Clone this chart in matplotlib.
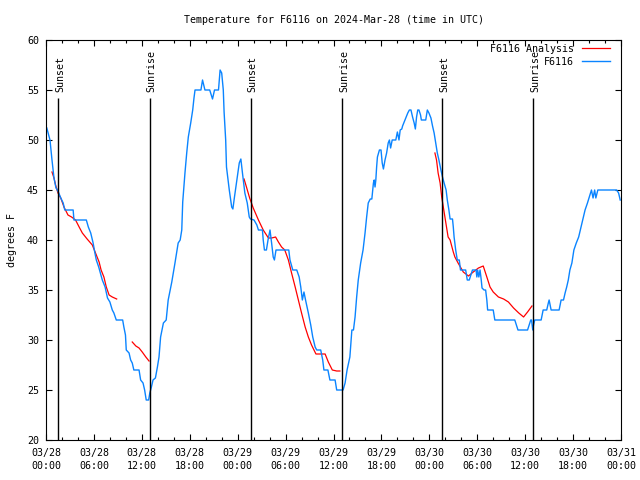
"""
Temperature trace for station F6116 with analysis overlay and sun events.
"""

import matplotlib
matplotlib.use("Agg")
import matplotlib.pyplot as plt
from matplotlib.ticker import MultipleLocator

FONT = "DejaVu Sans Mono"
FS = 7.2

# ─── data (x = hours since 03/28 00:00 UTC) ─────────────────────────────────

obs_hours = [
    0.1, 0.5, 0.75, 1.0, 1.25, 1.35, 1.6, 1.85, 2.15, 2.35, 3.4, 3.5, 5.05, 5.3,
    5.6, 5.9, 6.1, 6.3, 6.6, 7.05, 7.4, 7.7, 8.0, 8.3, 8.5, 8.8, 9.6, 9.75, 9.95,
    10.05, 10.4, 10.6, 10.8, 11.0, 11.65, 11.85, 12.15, 12.35, 12.55, 12.85,
    13.0, 13.2, 13.4, 13.7, 13.95, 14.15, 14.35, 14.7, 15.05, 15.3, 15.75, 16.15,
    16.55, 16.8, 17.0, 17.12, 17.4, 17.62, 17.82, 18.12, 18.37, 18.53, 18.66,
    19.4, 19.6, 19.9, 20.5, 20.85, 21.1, 21.6, 21.8, 22.0, 22.2, 22.3, 22.5,
    22.6, 22.95, 23.25, 23.4, 23.6, 23.9, 24.2, 24.4, 24.6, 24.9, 25.2, 25.45,
    25.6, 26.05, 26.4, 26.6, 27.1, 27.2, 27.35, 27.6, 27.8, 28.05, 28.25, 28.45,
    28.6, 28.8, 30.4, 30.55, 30.9, 31.4, 31.7, 31.9, 32.1, 32.3, 32.5, 32.85,
    33.15, 33.4, 33.7, 33.9, 34.4, 34.65, 34.8, 35.3, 35.55, 36.2, 36.4, 37.2,
    37.45, 37.7, 38.05, 38.3, 38.5, 38.7, 38.9, 39.1, 39.4, 39.7, 39.95, 40.15,
    40.35, 40.6, 40.8, 41.0, 41.1, 41.2, 41.3, 41.4, 41.5, 41.75, 41.95, 42.1,
    42.25, 42.45, 42.65, 42.85, 43.0, 43.15, 43.35, 43.6, 43.8, 44.0, 44.2,
    44.35, 44.55, 44.65, 44.8, 45.05, 45.3, 45.5, 45.7, 45.9, 46.1, 46.25, 46.4,
    46.55, 46.7, 46.9, 47.0, 47.55, 47.75, 47.95, 48.2, 48.4, 48.6, 48.8, 49.0,
    49.2, 49.45, 49.65, 49.85, 50.1, 50.25, 50.45, 50.6, 50.9, 51.0, 51.1, 51.3,
    51.5, 51.75, 51.9, 52.55, 52.75, 53.0, 53.2, 53.4, 53.85, 53.95, 54.05,
    54.2, 54.35, 54.5, 54.6, 54.85, 55.05, 55.2, 55.3, 56.0, 56.2, 58.7, 58.9,
    59.1, 60.3, 60.5, 60.7, 60.8, 60.95, 61.05, 61.2, 62.0, 62.25, 62.7, 62.9,
    63.0, 63.25, 64.25, 64.5, 64.8, 65.0, 65.2, 65.4, 65.6, 65.85, 66.1, 66.4,
    66.7, 67.0, 67.2, 67.5, 67.8, 68.1, 68.3, 68.5, 68.7, 68.85, 69.1, 71.45,
    71.7, 71.9,
]
obs_temps = [
    51.2, 50.0, 48.0, 46.2, 45.2, 45.1, 44.7, 44.2, 43.7, 43.0, 43.0, 42.0, 42.0,
    41.3, 40.7, 39.7, 38.8, 38.0, 37.3, 36.0, 35.3, 34.2, 33.8, 33.0, 32.7, 32.0,
    32.0, 31.3, 30.5, 29.0, 28.7, 28.0, 27.7, 27.0, 27.0, 26.0, 25.7, 25.0, 24.0,
    24.0, 24.7, 25.3, 26.0, 26.2, 27.3, 28.3, 30.3, 31.7, 32.0, 34.0, 35.8, 37.7,
    39.7, 40.0, 41.0, 43.8, 46.7, 48.7, 50.3, 51.7, 53.0, 54.2, 55.0, 55.0, 56.0,
    55.0, 55.0, 54.1, 55.0, 55.0, 57.0, 56.7, 55.0, 52.8, 50.0, 47.3, 45.0, 43.3,
    43.1, 44.3, 46.0, 47.7, 48.1, 46.7, 44.7, 43.7, 42.3, 42.1, 42.0, 41.5, 41.0,
    41.0, 40.0, 39.0, 39.0, 40.0, 41.0, 39.7, 38.3, 38.0, 39.0, 39.0, 38.0, 37.0,
    37.0, 36.3, 35.3, 34.0, 34.8, 34.0, 32.7, 31.5, 30.3, 29.3, 29.0, 29.0, 28.0,
    27.0, 27.0, 26.0, 26.0, 25.0, 25.0, 25.7, 27.0, 28.3, 31.0, 31.0, 32.3, 34.3,
    36.0, 37.7, 39.0, 40.7, 42.3, 43.7, 44.1, 44.1, 45.7, 46.0, 45.3, 46.0, 47.3,
    48.3, 49.0, 49.0, 47.7, 47.1, 48.0, 48.7, 49.7, 50.0, 49.2, 50.0, 50.0, 50.0,
    50.8, 50.0, 51.0, 51.1, 51.4, 51.7, 52.2, 52.7, 53.0, 53.0, 52.3, 51.7, 51.1,
    52.3, 53.0, 53.0, 52.5, 52.0, 52.0, 53.0, 52.7, 52.2, 51.4, 50.7, 49.7, 48.7,
    48.0, 47.0, 46.3, 45.7, 45.0, 44.0, 43.0, 42.1, 42.1, 41.3, 40.3, 39.0, 38.0,
    38.0, 37.0, 37.0, 36.0, 36.0, 36.5, 37.0, 37.0, 36.3, 37.0, 36.3, 37.0, 36.0,
    35.2, 35.0, 35.0, 34.0, 33.0, 33.0, 32.0, 32.0, 31.5, 31.0, 31.0, 31.5, 32.0,
    32.0, 31.0, 31.5, 32.0, 32.0, 33.0, 33.0, 33.7, 34.0, 33.0, 33.0, 34.0, 34.0,
    34.7, 35.3, 36.0, 37.0, 37.7, 39.0, 39.7, 40.3, 41.3, 42.0, 43.0, 43.7, 44.5,
    45.0, 44.2, 45.0, 44.2, 45.0, 45.0, 44.7, 44.0,
]

# analysis comes in separate evening/night runs
ana1_hours = [0.75, 1.0, 1.2, 1.5, 1.85, 2.25, 2.75, 3.2, 3.7, 4.15, 4.55, 5.15,
              5.8, 6.2, 6.65, 6.9, 7.25, 7.55, 7.9, 8.3, 8.85]
ana1_temps = [46.8, 46.2, 45.5, 44.7, 44.2, 43.3, 42.5, 42.3, 42.0, 41.3, 40.7,
              40.1, 39.5, 38.7, 37.8, 37.0, 36.3, 35.3, 34.5, 34.3, 34.1]
ana2_hours = [10.8, 11.25, 11.65, 12.05, 12.5, 12.9]
ana2_temps = [29.8, 29.4, 29.2, 28.8, 28.3, 27.9]
ana3_hours = [24.8, 25.1, 25.5, 25.95, 26.6, 27.2, 27.85, 28.25, 28.75, 29.1,
              29.5, 29.9, 30.35, 30.75, 31.2, 31.6, 32.0, 32.45, 32.85, 33.25,
              33.8, 34.95, 35.35, 35.85, 36.4, 36.8]
ana3_temps = [46.1, 45.3, 44.2, 43.2, 42.0, 41.0, 40.2, 40.2, 40.3, 39.8, 39.3,
              39.0, 38.0, 36.7, 35.3, 34.0, 32.7, 31.3, 30.3, 29.5, 28.6, 28.6,
              27.8, 27.0, 26.9, 26.9]
ana4_hours = [48.7, 48.9, 49.1, 49.35, 49.55, 49.75, 49.95, 50.15, 50.35, 50.6,
              51.0, 51.2, 51.6, 52.25, 52.9, 53.5, 54.15, 54.75, 55.2, 55.6, 56.0,
              56.65, 57.3, 57.9, 58.55, 59.2, 59.8, 60.3, 60.85]
ana4_temps = [48.7, 48.0, 46.7, 45.7, 44.3, 43.3, 42.3, 41.3, 40.3, 40.0, 38.8,
              38.3, 37.7, 36.8, 36.4, 36.8, 37.2, 37.4, 36.3, 35.3, 34.8, 34.3,
              34.1, 33.8, 33.2, 32.7, 32.3, 32.8, 33.4]

event_hours = [1.55, 13.02, 25.62, 37.1, 49.63, 61.02]
event_names = ["Sunset", "Sunrise", "Sunset", "Sunrise", "Sunset", "Sunrise"]

tick_hours = [0, 6, 12, 18, 24, 30, 36, 42, 48, 54, 60, 66, 72]
tick_labels = [
    "03/28\n00:00", "03/28\n06:00", "03/28\n12:00", "03/28\n18:00",
    "03/29\n00:00", "03/29\n06:00", "03/29\n12:00", "03/29\n18:00",
    "03/30\n00:00", "03/30\n06:00", "03/30\n12:00", "03/30\n18:00",
    "03/31\n00:00",
]

# ─── plot ───────────────────────────────────────────────────────────────────

plt.rcParams["font.family"] = FONT
plt.rcParams["font.size"] = FS

fig = plt.figure(figsize=(6.4, 4.8), dpi=100)
ax = fig.add_axes([46 / 640, 40 / 480, 575 / 640, 400 / 480])

ana_color = "#FF0000"
obs_color = "#0A84FF"
segs = [(ana1_hours, ana1_temps), (ana2_hours, ana2_temps),
        (ana3_hours, ana3_temps), (ana4_hours, ana4_temps)]
for i, (h, t) in enumerate(segs):
    ax.plot(h, t, color=ana_color, lw=0.9,
            label="F6116 Analysis" if i == 0 else None)
ax.plot(obs_hours, obs_temps, color=obs_color, lw=1.0, label="F6116")

# sunrise / sunset markers
for h, name in zip(event_hours, event_names):
    ax.vlines(h, 20, 54.2, color="black", lw=1.0)
    ax.text(h + 0.2, 54.8, name, rotation=90, ha="center", va="bottom",
            fontsize=FS)

ax.set_xlim(0, 72)
ax.set_ylim(20, 60)
ax.set_xticks(tick_hours)
ax.set_xticklabels(tick_labels, linespacing=1.35)
ax.xaxis.set_minor_locator(MultipleLocator(2))
ax.yaxis.set_major_locator(MultipleLocator(5))
ax.tick_params(which="both", direction="in", top=True, right=True,
               width=0.8, labelsize=FS)
ax.tick_params(axis="x", pad=6)
ax.tick_params(axis="y", pad=5)
ax.tick_params(which="major", length=4.5)
ax.tick_params(which="minor", length=2.3)
for sp in ax.spines.values():
    sp.set_linewidth(0.8)

ax.set_ylabel("degrees F", fontsize=FS, labelpad=7)
ax.set_title("Temperature for F6116 on 2024-Mar-28 (time in UTC)",
             fontsize=FS, pad=12)

ax.legend(loc="upper right", bbox_to_anchor=(0.98, 0.99), frameon=False,
          markerfirst=False, borderpad=0, borderaxespad=0, handlelength=2.8,
          handletextpad=0.8, labelspacing=0.3, fontsize=FS)

fig.savefig("out.png", dpi=100)
plt.close(fig)
